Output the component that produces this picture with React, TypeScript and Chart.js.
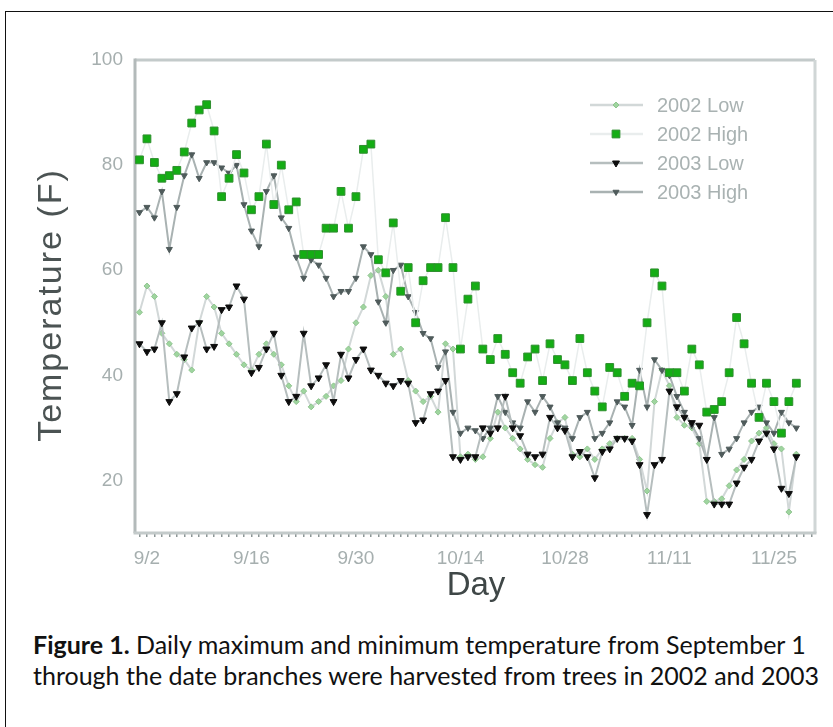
import React, { useEffect, useRef } from "react";
import { Chart, registerables } from "chart.js";

Chart.register(...registerables);

// Day index: 1 = 9/1
const startDay = 1;
const tickDays = [2, 16, 30, 44, 58, 72, 86];
const tickLabels = ["9/2", "9/16", "9/30", "10/14", "10/28", "11/11", "11/25"];
const yTicks = [20, 40, 60, 80, 100];
const seriesNames = ["2002 Low", "2002 High", "2003 Low", "2003 High"];

const low2002 = [
  52, 57, 55, 48, 46, 44, 43, 41, 50, 55,
  53, 48, 46, 44, 42, 41, 44, 46, 44, 42,
  38, 35, 37, 34, 35, 36, 38, 39, 45, 50,
  53, 59, 60, 55, 44, 45, 39, 37, 35, 36,
  33, 46, 45, 24.5, 25, 24, 24.5, 28, 33, 30,
  28, 26, 24, 23, 22.5, 28, 31, 32, 25, 24.5,
  26, 24, 26, 27, 28, 28, 28, 24, 18, 35,
  41, 38, 32, 30.5, 30, 27, 16, 16, 16.5, 19,
  22, 24, 27.5, 29, 30, 27, 26, 14, 25,
];

const high2002 = [
  81, 85, 80.5, 77.5, 78, 79, 82.5, 88, 90.5, 91.5,
  86.5, 74, 77.5, 82, 78.5, 71.5, 74, 84, 72.5, 80,
  71.5, 73, 63, 63, 63, 68, 68, 75, 68, 74,
  83, 84, 62, 59.5, 69, 56, 60.5, 50, 58, 60.5,
  60.5, 70, 60.5, 45, 54.5, 57, 45, 43, 47, 44,
  40.5, 38.5, 43.5, 45, 39, 46, 43, 42, 39, 47,
  40.5, 37, 34, 41.5, 40.5, 36, 38.5, 38, 50, 59.5,
  57, 40.5, 40.5, 37, 45, 42, 33, 33.5, 35, 40.5,
  51, 46, 38.5, 32, 38.5, 35, 29, 35, 38.5,
];

const low2003 = [
  46, 44.5, 45, 50, 35, 36.5, 43.5, 49, 50, 45,
  45.5, 52.5, 53, 57, 54.5, 40.5, 41.5, 45, 48, 40,
  35, 36, 48, 38, 39.5, 42, 35, 44, 39.5, 43,
  45, 41, 40, 38.5, 38, 39, 38.5, 31, 31.5, 36.5,
  37, 39, 24.5, 24, 24.5, 24.5, 30, 29, 30, 36,
  30, 28.5, 25, 24.5, 25, 32, 30, 29.5, 24.5, 25.5,
  24.5, 20.5, 25.5, 26, 28, 28, 27.5, 23, 13.5, 23,
  24, 37, 34, 32, 31, 30.5, 24, 15.5, 15.5, 15.5,
  19.5, 22.5, 24, 27.5, 29, 26, 18.5, 17.5, 24.5,
];

const high2003 = [
  71, 72, 70, 75, 64, 72, 78, 82, 77.5, 80.5,
  80.5, 79.5, 78.5, 80, 72.5, 67.5, 64.5, 75, 78, 70,
  68, 62.5, 58.5, 62, 61, 58.5, 55, 56, 56, 58.5,
  64.5, 63, 54, 50, 60, 61, 55, 52, 48, 47,
  41.5, 44.5, 33, 29, 30, 29.5, 28, 30, 36, 33,
  31, 30, 35, 33, 36, 34, 31, 30, 28, 32,
  33, 28, 29, 31, 35, 34, 30.5, 41, 34, 43,
  41, 40, 36, 33, 30.5, 28, 24, 32, 25, 26,
  28, 31, 33, 34, 31, 29, 33, 31, 30,
];

const allDays = high2002.map((_, i) => startDay + i).concat([90, 91]);

function toPoints(vals: number[]) {
  return vals.map((v, i) => ({ x: startDay + i, y: v }));
}

function drawMarker(ctx: CanvasRenderingContext2D, style: string, x: number, y: number, r: number, fill: string, stroke: string, rot: number) {
  ctx.save();
  ctx.fillStyle = fill;
  ctx.strokeStyle = stroke;
  ctx.lineWidth = 1;
  ctx.beginPath();
  if (style === "rect") {
    const s = Math.SQRT1_2 * r;
    ctx.rect(x - s, y - s, 2 * s, 2 * s);
  } else if (style === "rectRot") {
    ctx.moveTo(x, y - r);
    ctx.lineTo(x + r, y);
    ctx.lineTo(x, y + r);
    ctx.lineTo(x - r, y);
    ctx.closePath();
  } else if (style === "triangle") {
    ctx.translate(x, y);
    ctx.rotate((rot * Math.PI) / 180);
    ctx.moveTo(0, -r);
    ctx.lineTo(r * 0.87, r * 0.5);
    ctx.lineTo(-r * 0.87, r * 0.5);
    ctx.closePath();
  } else {
    ctx.arc(x, y, r, 0, Math.PI * 2);
  }
  ctx.fill();
  ctx.stroke();
  ctx.restore();
}

const framePlugin = {
  id: "frame",
  beforeDatasetsDraw(chart: any) {
    const { ctx, chartArea: a } = chart;
    ctx.save();
    ctx.lineWidth = 3;
    ctx.strokeStyle = "#c3caca";
    ctx.beginPath();
    ctx.moveTo(a.left, a.top);
    ctx.lineTo(a.right, a.top);
    ctx.stroke();
    ctx.strokeStyle = "#d0d6d6";
    ctx.beginPath();
    ctx.moveTo(a.right, a.top);
    ctx.lineTo(a.right, a.bottom);
    ctx.stroke();
    ctx.strokeStyle = "#b3baba";
    ctx.beginPath();
    ctx.moveTo(a.left, a.top - 1.5);
    ctx.lineTo(a.left, a.bottom);
    ctx.stroke();
    ctx.strokeStyle = "#c3caca";
    ctx.beginPath();
    ctx.moveTo(a.left - 1.5, a.bottom);
    ctx.lineTo(a.right + 1.5, a.bottom);
    ctx.stroke();
    ctx.restore();
  },
  afterDraw(chart: any) {
    const { ctx } = chart;
    // axis titles
    ctx.save();
    ctx.fillStyle = "#4b5353";
    ctx.font = "34px 'Liberation Sans', Arial, sans-serif";
    ctx.textAlign = "center";
    ctx.textBaseline = "middle";
    ctx.translate(52, 305);
    ctx.rotate(-Math.PI / 2);
    (ctx as any).letterSpacing = "2px";
    ctx.fillText("Temperature (F)", 0, 0);
    ctx.restore();

    ctx.save();
    ctx.fillStyle = "#3f4747";
    ctx.font = "33px 'Liberation Sans', Arial, sans-serif";
    ctx.textAlign = "center";
    ctx.textBaseline = "middle";
    ctx.fillText("Day", 476, 586);
    ctx.restore();

    // legend
    const ds = chart.data.datasets;
    ds.forEach((d: any, i: number) => {
      const y = 105 + i * 29;
      ctx.save();
      ctx.strokeStyle = d.borderColor;
      ctx.lineWidth = 2.5;
      ctx.beginPath();
      ctx.moveTo(590, y);
      ctx.lineTo(643, y);
      ctx.stroke();
      ctx.restore();
      drawMarker(ctx, d.pointStyle, 616, y, d.pointRadius, d.pointBackgroundColor, d.pointBorderColor, d.pointRotation || 0);
      ctx.save();
      ctx.fillStyle = "#a9b2b2";
      ctx.font = "20px 'Liberation Sans', Arial, sans-serif";
      ctx.textBaseline = "middle";
      ctx.fillText(seriesNames[i], 657, y + 1);
      ctx.restore();
    });
  },
};

export default function App() {
  const ref = useRef<HTMLCanvasElement | null>(null);

  useEffect(() => {
    if (!ref.current) return;
    const chart = new Chart(ref.current, {
      type: "line",
      data: {
        datasets: [
          {
            label: seriesNames[0],
            data: toPoints(low2002),
            borderColor: "#d2d8d8",
            borderWidth: 2,
            pointStyle: "rectRot",
            pointRadius: 3,
            pointBackgroundColor: "#9fd59f",
            pointBorderColor: "#8fc48f",
            pointBorderWidth: 1,
            order: 3,
          } as any,
          {
            label: seriesNames[1],
            data: toPoints(high2002),
            borderColor: "#e9eded",
            borderWidth: 1.5,
            pointStyle: "rect",
            pointRadius: 5.5,
            pointBackgroundColor: "#14ad14",
            pointBorderColor: "#2f8f2f",
            pointBorderWidth: 1,
            order: 0,
          },
          {
            label: seriesNames[2],
            data: toPoints(low2003),
            borderColor: "#b6bebe",
            borderWidth: 2,
            pointStyle: "triangle",
            pointRotation: 180,
            pointRadius: 4,
            pointBackgroundColor: "#0d0d0d",
            pointBorderColor: "#0d0d0d",
            pointBorderWidth: 1,
            order: 1,
          },
          {
            label: seriesNames[3],
            data: toPoints(high2003),
            borderColor: "#a9b2b2",
            borderWidth: 2,
            pointStyle: "triangle",
            pointRotation: 180,
            pointRadius: 3.5,
            pointBackgroundColor: "#4f5b5b",
            pointBorderColor: "#4f5b5b",
            pointBorderWidth: 1,
            order: 2,
          },
        ],
      },
      options: {
        animation: false,
        responsive: false,
        maintainAspectRatio: false,
        layout: { padding: { left: 0, top: 60, right: 18, bottom: 0 } },
        plugins: { legend: { display: false }, tooltip: { enabled: false } },
        elements: { line: { tension: 0 } },
        scales: {
          x: {
            type: "linear",
            min: 0.4,
            max: 91.5,
            afterBuildTicks: (s: any) => {
              s.ticks = allDays.map((v) => ({ value: v }));
            },
            afterFit: (s: any) => {
              s.height = 612 - 533;
            },
            ticks: {
              autoSkip: false,
              maxRotation: 0,
              padding: 10,
              color: "#a6afaf",
              font: { size: 19, family: "'Liberation Sans', Arial, sans-serif" },
              callback: (v: any) => {
                const k = tickDays.indexOf(Number(v));
                return k >= 0 ? tickLabels[k] : "";
              },
            },
            grid: {
              display: true,
              drawOnChartArea: false,
              drawTicks: true,
              tickLength: 4,
              color: "#8c9696",
              lineWidth: 1.5,
            },
            border: { display: false },
          },
          y: {
            min: 10,
            max: 100,
            afterBuildTicks: (s: any) => {
              s.ticks = yTicks.map((v) => ({ value: v }));
            },
            afterFit: (s: any) => {
              s.width = 135;
            },
            ticks: {
              padding: 12,
              color: "#a6afaf",
              font: { size: 19, family: "'Liberation Sans', Arial, sans-serif" },
            },
            grid: { display: false, drawTicks: false },
            border: { display: false },
          },
        },
      },
      plugins: [framePlugin],
    });
    return () => chart.destroy();
  }, []);

  return (
    <div style={{ position: "relative", width: 833, height: 727, overflow: "hidden", background: "#fff" }}>
      <style>{"body{margin:0;overflow:hidden;background:#fff}"}</style>
      <div
        style={{
          position: "absolute",
          left: 5,
          top: 11,
          width: 1000,
          height: 1000,
          borderTop: "1.5px solid #111",
          borderLeft: "1.5px solid #111",
          boxSizing: "border-box",
        }}
      />
      <canvas ref={ref} width={833} height={612} style={{ position: "absolute", left: 0, top: 0, width: 833, height: 612 }} />
      <div
        style={{
          position: "absolute",
          left: 33,
          top: 629,
          fontFamily: "Lato, 'Open Sans', sans-serif",
          fontSize: 25,
          lineHeight: "31px",
          color: "#111",
          whiteSpace: "nowrap",
        }}
      >
        <b>Figure 1.</b> Daily maximum and minimum temperature from September 1
        <br />
        through the date branches were harvested from trees in 2002 and 2003
      </div>
    </div>
  );
}
